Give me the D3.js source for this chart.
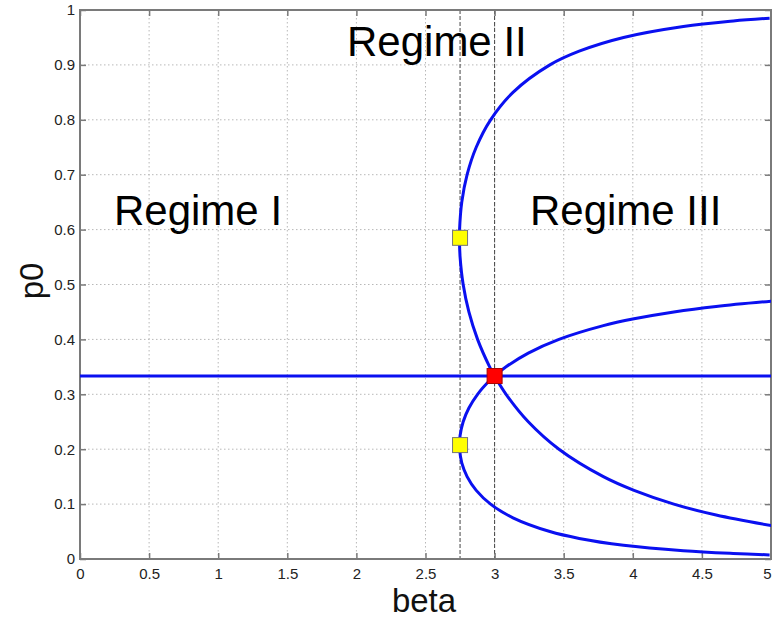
<!DOCTYPE html>
<html>
<head>
<meta charset="utf-8">
<script src="https://cdn.jsdelivr.net/npm/d3@7/dist/d3.min.js"></script>
<style>
  html, body { margin: 0; padding: 0; background: #fff; }
  svg { display: block; font-family: "Liberation Sans", Arial, Helvetica, sans-serif; }
</style>
</head>
<body>
<svg id="chart" width="772" height="622"></svg>
<script>
// ---- data ----
const xTicks = [0, 0.5, 1, 1.5, 2, 2.5, 3, 3.5, 4, 4.5, 5];
const yTicks = [0, 0.1, 0.2, 0.3, 0.4, 0.5, 0.6, 0.7, 0.8, 0.9, 1];
const xTickLabels = ["0", "0.5", "1", "1.5", "2", "2.5", "3", "3.5", "4", "4.5", "5"];
const yTickLabels = ["0", "0.1", "0.2", "0.3", "0.4", "0.5", "0.6", "0.7", "0.8", "0.9", "1"];

// branch through the upper saddle-node (p0 as majority)
const betaBranch = [4.99, 4.727, 4.366, 3.933, 3.612, 3.400, 3.133, 2.971, 2.867, 2.801, 2.7625, 2.7465, 2.7458, 2.7503, 2.7726, 2.814, 2.8768, 2.964, 3.0, 3.083, 3.2437, 3.4657, 3.787, 4.009, 4.297, 4.603, 5.02];
const p0Upper    = [0.985, 0.98, 0.97, 0.95, 0.925, 0.9, 0.85, 0.8, 0.75, 0.7, 0.65, 0.6, 0.58, 0.55, 0.5, 0.45, 0.4, 0.35, 0.3333, 0.3, 0.25, 0.2, 0.15, 0.125, 0.1, 0.08, 0.06];
// branch through the lower saddle-node (p0 as minority)
const p0Lower    = [0.0075, 0.01, 0.015, 0.025, 0.0375, 0.05, 0.075, 0.1, 0.125, 0.15, 0.175, 0.2, 0.21, 0.225, 0.25, 0.275, 0.3, 0.325, 0.3333, 0.35, 0.375, 0.4, 0.425, 0.4375, 0.45, 0.46, 0.47];

// symmetric solution
const symBeta = [0, 5];
const symP0 = [0.3333, 0.3333];

// special points
const saddleBeta = [2.75, 2.75];
const saddleP0 = [0.585, 0.2075];
const critBeta = [3];
const critP0 = [0.3333];

// regime boundaries
const boundaryBeta = [2.75, 3];

// regime labels
const regimeNames = ["Regime I", "Regime II", "Regime III"];
const regimeBeta = [0.246, 1.932, 3.256];
const regimeP0 = [0.608, 0.916, 0.608];

// ---- drawing ----
const svg = d3.select("#chart");
const mL = 80, mR = 771, mT = 10, mB = 559;
const x = d3.scaleLinear().domain([0, 5]).range([mL, mR]);
const y = d3.scaleLinear().domain([0, 1]).range([mB, mT]);

svg.append("defs").append("clipPath").attr("id", "plotclip")
  .append("rect").attr("x", mL).attr("y", mT).attr("width", mR - mL).attr("height", mB - mT);

// grid
const grid = svg.append("g");
grid.selectAll("line.gx").data(xTicks.slice(1, -1)).enter().append("line")
  .attr("x1", d => x(d)).attr("x2", d => x(d)).attr("y1", mT).attr("y2", mB)
  .attr("stroke", "#b8b8b8").attr("stroke-width", 1).attr("stroke-dasharray", "1.5,2.5");
grid.selectAll("line.gy").data(yTicks.slice(1, -1)).enter().append("line")
  .attr("y1", d => y(d)).attr("y2", d => y(d)).attr("x1", mL).attr("x2", mR)
  .attr("stroke", "#b8b8b8").attr("stroke-width", 1).attr("stroke-dasharray", "1.5,2.5");

// boundaries
svg.append("g").selectAll("line").data(boundaryBeta).enter().append("line")
  .attr("x1", d => x(d)).attr("x2", d => x(d)).attr("y1", mT).attr("y2", mB)
  .attr("stroke", "#444").attr("stroke-width", 1).attr("stroke-dasharray", "4,2");

// axes (MATLAB-style inward ticks on all sides)
const axisColor = "#7a7a7a";
function styleAxis(g) {
  g.select(".domain").remove();
  g.selectAll(".tick line").attr("stroke", axisColor).attr("stroke-width", 1.5);
  g.selectAll(".tick text").attr("fill", "#222").style("font-size", "15px")
    .style("font-family", "'Liberation Sans', Arial, sans-serif");
}
const xAxisG = svg.append("g").attr("transform", `translate(0,${mB})`)
  .call(d3.axisBottom(x).tickValues(xTicks).tickFormat((d, i) => xTickLabels[i]).tickSizeInner(-6).tickSizeOuter(0).tickPadding(9))
  .call(styleAxis);
// keep the last label inside the window
xAxisG.selectAll(".tick text").filter(d => d === xTicks[xTicks.length - 1])
  .attr("text-anchor", "end").attr("dx", "0");
svg.append("g").attr("transform", `translate(0,${mT})`)
  .call(d3.axisTop(x).tickValues(xTicks).tickFormat("").tickSizeInner(-6).tickSizeOuter(0))
  .call(styleAxis);
svg.append("g").attr("transform", `translate(${mL},0)`)
  .call(d3.axisLeft(y).tickValues(yTicks).tickFormat((d, i) => yTickLabels[i]).tickSizeInner(-6).tickSizeOuter(0).tickPadding(5))
  .call(styleAxis);
svg.append("g").attr("transform", `translate(${mR},0)`)
  .call(d3.axisRight(y).tickValues(yTicks).tickFormat("").tickSizeInner(-6).tickSizeOuter(0))
  .call(styleAxis);

svg.append("rect").attr("x", mL).attr("y", mT).attr("width", mR - mL).attr("height", mB - mT)
  .attr("fill", "none").attr("stroke", axisColor).attr("stroke-width", 2);

// curves
const plot = svg.append("g").attr("clip-path", "url(#plotclip)");
const line = d3.line().x(d => x(d[0])).y(d => y(d[1])).curve(d3.curveCatmullRom.alpha(0.5));
const blue = "#0a10f0";
plot.append("path").datum(symBeta.map((b, i) => [b, symP0[i]])).attr("d", line)
  .attr("fill", "none").attr("stroke", blue).attr("stroke-width", 3);
plot.append("path").datum(betaBranch.map((b, i) => [b, p0Upper[i]])).attr("d", line)
  .attr("fill", "none").attr("stroke", blue).attr("stroke-width", 3);
plot.append("path").datum(betaBranch.map((b, i) => [b, p0Lower[i]])).attr("d", line)
  .attr("fill", "none").attr("stroke", blue).attr("stroke-width", 3);

// markers
const ms = 15;
svg.append("g").selectAll("rect").data(saddleBeta.map((b, i) => [b, saddleP0[i]])).enter().append("rect")
  .attr("x", d => x(d[0]) - ms / 2).attr("y", d => y(d[1]) - ms / 2).attr("width", ms).attr("height", ms)
  .attr("fill", "#ffff00").attr("stroke", "#777").attr("stroke-width", 1);
svg.append("g").selectAll("rect").data(critBeta.map((b, i) => [b, critP0[i]])).enter().append("rect")
  .attr("x", d => x(d[0]) - ms / 2).attr("y", d => y(d[1]) - ms / 2).attr("width", ms).attr("height", ms)
  .attr("fill", "#ff0000").attr("stroke", "#a00").attr("stroke-width", 1);

// regime labels
svg.append("g").selectAll("text").data(regimeNames).enter().append("text")
  .attr("x", (d, i) => x(regimeBeta[i])).attr("y", (d, i) => y(regimeP0[i]))
  .attr("fill", "#000").style("font-size", "42px").text(d => d);

// axis labels
svg.append("text").attr("x", 424).attr("y", 612).attr("text-anchor", "middle")
  .attr("fill", "#111").style("font-size", "33px").text("beta");
svg.append("text").attr("transform", "translate(43,281) rotate(-90)").attr("text-anchor", "middle")
  .attr("fill", "#111").style("font-size", "33px").text("p0");
</script>
</body>
</html>
